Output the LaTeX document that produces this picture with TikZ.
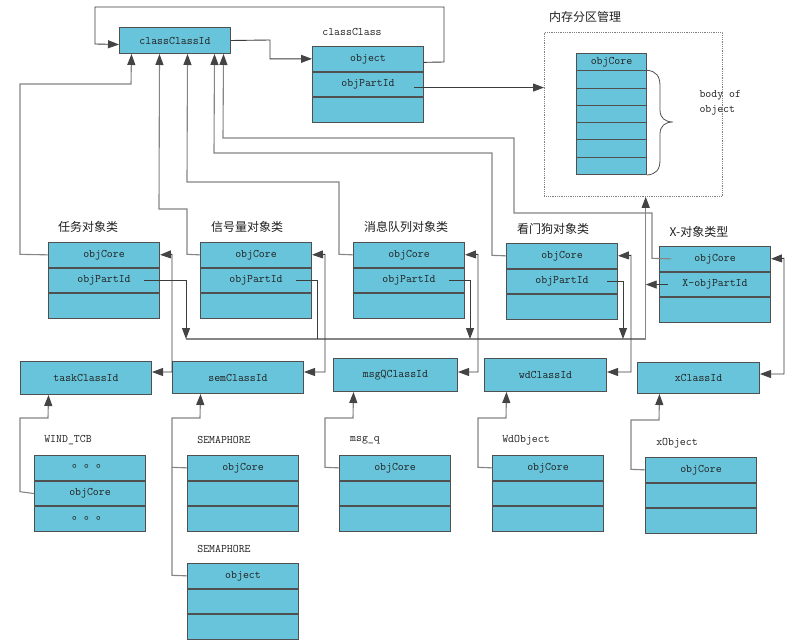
\documentclass[tikz,border=0pt]{standalone}
\usepackage{fontspec}
\newfontfamily\cjk{Noto Sans CJK SC}
\usetikzlibrary{arrows.meta,calc}
\definecolor{cellfill}{HTML}{68C4DA}
\definecolor{cellline}{HTML}{505050}
\definecolor{darkln}{HTML}{3C3C3C}
\definecolor{lightln}{HTML}{858585}
\definecolor{tipcol}{HTML}{444444}
\definecolor{txt}{HTML}{202020}
\tikzset{
  cell/.style={draw=cellline, fill=cellfill, line width=1pt, anchor=north west, inner sep=0pt,
    minimum width=111pt, minimum height=24.7pt, text=txt, font=\ttfamily\fontsize{11.5}{12}\selectfont},
  lab/.style={text=txt, font=\cjk\fontsize{12}{14}\selectfont},
  tlab/.style={text=txt, font=\ttfamily\fontsize{11.5}{15}\selectfont},
  ld/.style={draw=darkln, line width=0.9pt},
  ll/.style={draw=lightln, line width=1.1pt},
}
\newcommand\threebox[6]{%
  \node[cell, minimum height=#4pt] (#1a) at (#2,#3) {#5};
  \node[cell, minimum height=#4pt] (#1b) at (#1a.south west) {#6};
  \node[cell, minimum height=#4pt] (#1c) at (#1b.south west) {};
}
\newcommand\dotsrow{\raisebox{3pt}{\cjk\fontsize{12}{12}\selectfont 。。。}}
\begin{document}
\begin{tikzpicture}[x=1pt,y=-1pt,>={Triangle[length=11pt,width=8pt,color=tipcol]}]
\fill[white] (0,0) rectangle (795,644);
\useasboundingbox (0,0) rectangle (795,644);

% ---------- top ----------
\node[cell, minimum height=26pt] (ccid) at (119,27) {classClassId};
\node[tlab] (lcc) at (352,32) {classClass};
\threebox{cc}{312}{46}{24.7}{object}{objPartId}

\node[draw=gray, densely dotted, line width=0.8pt, anchor=north west, inner sep=0pt,
      minimum width=178pt, minimum height=164pt] (mem) at (544,32) {};
\node[lab] (lmem) at (585,17) {内存分区管理};
\node[cell, minimum width=70pt, minimum height=17.3pt] (m0) at (576,53) {objCore};
\foreach \i in {1,...,6}
  \node[cell, minimum width=70pt, minimum height=17.3pt] (m\i) at (576,{53+17.3*\i}) {};
\draw[cellline, line width=0.8pt] (m1.north east) .. controls (656,71) and (660,76) .. (660,86)
   -- (660,110) .. controls (660,118) and (665,122) .. (673,122)
   .. controls (665,122) and (660,126) .. (660,134) -- (660,160)
   .. controls (660,170) and (656,174) .. (m6.south east);
\node[tlab, align=left, anchor=west] (lbody) at (696,102.5) {body of\\object};

% ---------- middle ----------
\node[lab] (l1) at (88,227) {任务对象类};
\node[lab] (l2) at (247,227) {信号量对象类};
\node[lab] (l3) at (406,227) {消息队列对象类};
\node[lab] (l4) at (553,229) {看门狗对象类};
\node[lab] (l5) at (699,232) {X-对象类型};
\threebox{t}{48}{242}{24.7}{objCore}{objPartId}
\threebox{s}{200}{242}{24.7}{objCore}{objPartId}
\threebox{m}{353}{242}{24.7}{objCore}{objPartId}
\threebox{w}{506}{243}{24.7}{objCore}{objPartId}
\threebox{x}{659}{246}{24.7}{objCore}{X-objPartId}

% ---------- class id boxes ----------
\node[cell, minimum width=131pt, minimum height=33pt] (tcid) at (20,361) {taskClassId};
\node[cell, minimum width=131pt, minimum height=32pt] (scid) at (172,361) {semClassId};
\node[cell, minimum width=124pt, minimum height=33pt] (mcid) at (333,358) {msgQClassId};
\node[cell, minimum width=122pt, minimum height=33pt] (wcid) at (484,358) {wdClassId};
\node[cell, minimum width=122pt, minimum height=31pt] (xcid) at (637,362) {xClassId};

% ---------- bottom structs ----------
\node[tlab] (lw1) at (68,440) {WIND\_TCB};
\node[tlab] (lw2) at (224,440) {SEMAPHORE};
\node[tlab] (lw3) at (365,440) {msg\_q};
\node[tlab] (lw4) at (526,440) {WdObject};
\node[tlab] (lw5) at (677,443) {xObject};
\node[tlab] (lw6) at (224,549) {SEMAPHORE};
\node[cell] (wta) at (34,455) {\dotsrow};
\node[cell] (wtb) at (wta.south west) {objCore};
\node[cell] (wtc) at (wtb.south west) {\dotsrow};
\threebox{sa}{187}{455}{24.7}{objCore}{}
\threebox{sb}{187}{563}{24.7}{object}{}
\threebox{q}{339}{455}{24.7}{objCore}{}
\threebox{d}{492}{455}{24.7}{objCore}{}
\threebox{o}{645}{457}{24.7}{objCore}{}

% ---------- connectors: top ----------
\draw[ld,->] ($(cca.east)+(0,3.5)$) -- (444,62) -- (444,7) -- (95,7) -- (95,44) -- ($(ccid.west)+(0,4)$);
\draw[ld,->] (ccid.east) -- (270,40) |- (cca.west);
\coordinate (c86) at ($(ccb.east)+(-10,3)$);
\draw[ld,->] (c86) -- (c86 -| mem.west);

% inheritance to classClassId
\draw[ll,->] (ta.west) -- (20,254.35) -- (20,84) -- (131,84) -- ([xshift=-43.5pt]ccid.south);
\draw[ll,->] (sa.west) -- (187,254.35) -- (187,209) -- (159,209) -- ([xshift=-15.5pt]ccid.south);
\draw[ll,->] (ma.west) -- (339,254.35) -- (339,182) -- (187,182) -- ([xshift=12.5pt]ccid.south);
\draw[ll,->] (wa.west) -- (492,255.35) -- (492,153) -- (214,153) -- ([xshift=39.5pt]ccid.south);
\draw[ll,->] ($(xa.west)+(12,0)$) -- (652,258.35) -- (652,213) -- (514,213) -- (514,138) -- (223,138) -- ([xshift=48.5pt]ccid.south);

% bus to memory partition
\coordinate (bus0) at (186,339);
\coordinate (bus1) at (645.7,339);
\draw[ll,->] (bus0) -- (bus1) -- (bus1 |- mem.south);
\draw[ld,->] ($(tb.east)+(-16,0)$) -| (bus0);
\draw[ld] ($(sb.east)+(-16,0)$) -| (317,339);
\draw[ld,->] ($(mb.east)+(-16,0)$) -| (470,339);
\draw[ld,->] ($(wb.east)+(-11,0)$) -| (623,339);
\draw[ld,->] ($(xb.west)+(9,0)$) -- (xb.west -| bus1);

% class id <-> objCore
\coordinate (y372) at (0,372);
\coordinate (y374) at (0,374);
\draw[ld,<->] (ta.east) -- (172,254.35) -- (172,372) -- (tcid.east |- y372);
\draw[ld,<->] (sa.east) -- (325,254.35) -- (325,372) -- (scid.east |- y372);
\draw[ld,<->] (ma.east) -- (478,254.35) -- (478,372) -- (mcid.east |- y372);
\draw[ld,<->] (wa.east) -- (631,255.35) -- (631,372) -- (wcid.east |- y372);
\draw[ld,<->] (xa.east) -- (784,258.35) -- (784,374) -- (xcid.east |- y374);

% structs -> class ids
\draw[ll,->] (wtb.west) -- (20,491.7) -- (20,418) -- (48,418) -- ([xshift=-37.5pt]tcid.south);
\draw[ll,->] (saa.west) -- (172,467.35) -- (172,418) -- (200,418) -- ([xshift=-37.5pt]scid.south);
\draw[ll] (sba.west) -- (172,575.35) -- (172,467.35);
\draw[ll,->] (qa.west) -- (325,467.35) -- (325,418) -- (353,418) -- ([xshift=-42pt]mcid.south);
\draw[ll,->] (da.west) -- (478,467.35) -- (478,418) -- (506,418) -- ([xshift=-39pt]wcid.south);
\draw[ll,->] (oa.west) -- (631,469.35) -- (631,420) -- (659,420) -- ([xshift=-39pt]xcid.south);
\end{tikzpicture}
\end{document}
